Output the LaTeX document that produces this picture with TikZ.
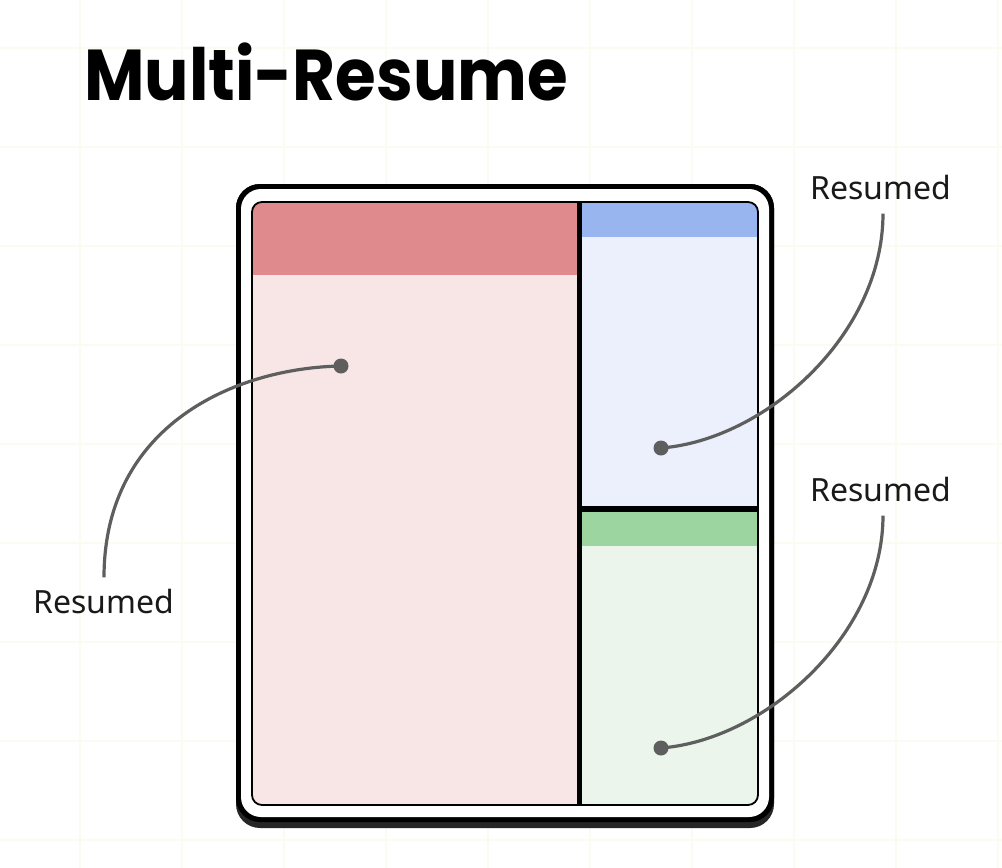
\documentclass[tikz,border=0pt]{standalone}
\usepackage{fontspec}
\setmainfont{Noto Sans}
\newfontfamily\titlefont{Poppins}
\definecolor{gridline}{HTML}{FAFBF2}
\definecolor{redhead}{HTML}{DF8A8C}
\definecolor{redbody}{HTML}{F8E6E7}
\definecolor{bluehead}{HTML}{98B5EF}
\definecolor{bluebody}{HTML}{ECF0FC}
\definecolor{greenhead}{HTML}{9DD5A0}
\definecolor{greenbody}{HTML}{EBF5EC}
\definecolor{leadgray}{HTML}{5E5E5E}
\definecolor{shadow}{HTML}{262626}
\begin{document}
\begin{tikzpicture}[x=1pt, y=-1pt,
    dot/.style={circle, fill=leadgray, inner sep=0pt, minimum size=15pt},
    lbl/.style={font=\fontsize{32}{38}\selectfont, text=black!90, inner sep=2pt},
    lead/.style={draw=leadgray, line width=3.2pt}]
    \useasboundingbox [fill=white] (0, 0) rectangle (1002, 868);
    \foreach \gx in {80, 182, ..., 1000}
      \draw [gridline, line width=1.2pt] (\gx, 0) -- (\gx, 868);
    \foreach \gy in {48, 147, ..., 868}
      \draw [gridline, line width=1.2pt] (0, \gy) -- (1002, \gy);

    \node [anchor=base west, inner sep=0pt] (title) at (84, 100)
      {\scalebox{0.915}[1]{\titlefont\fontsize{72}{80}\selectfont\bfseries Multi-Resume}};

    % device body
    \fill [shadow] (236, 184) [rounded corners=24pt] rectangle (774, 828);
    \fill [black] (236, 184) [rounded corners=24pt] rectangle (774, 822);
    \fill [white] (241, 189) [rounded corners=20pt] rectangle (769, 817);

    % panes
    \begin{scope}
      \clip (252, 202) [rounded corners=10pt] rectangle (758, 805);
      \fill [redbody] (252, 202) rectangle (579, 805);
      \fill [redhead] (252, 202) rectangle (579, 275);
      \fill [bluebody] (580, 202) rectangle (758, 509);
      \fill [bluehead] (580, 202) rectangle (758, 237);
      \fill [greenbody] (580, 509) rectangle (758, 805);
      \fill [greenhead] (580, 509) rectangle (758, 546);
    \end{scope}
    \draw [line width=5pt] (579.5, 202) -- (579.5, 805);
    \draw [line width=6pt] (579.5, 509) -- (758, 509);
    \draw [line width=1.8pt] (252, 202) [rounded corners=10pt] rectangle (758, 805);

    \node [dot] (dotLeft) at (341, 366) {};
    \node [dot] (dotTop) at (661, 448) {};
    \node [dot] (dotBottom) at (661, 748) {};

    \node [lbl] (lblLeft) at (104, 601) {Resumed};
    \node [lbl] (lblTop) at (881, 187) {Resumed};
    \node [lbl] (lblBottom) at (881, 489) {Resumed};

    \draw [lead] (dotLeft.center)
      .. controls (235, 368) and (104, 425) ..
      ([yshift=9pt]lblLeft.north);
    \draw [lead] (dotTop.center)
      .. controls (765, 440) and (883, 335) ..
      ([xshift=2pt, yshift=-12pt]lblTop.south);
    \draw [lead] (dotBottom.center)
      .. controls (765, 740) and (883, 635) ..
      ([xshift=2pt, yshift=-12pt]lblBottom.south);
\end{tikzpicture}
\end{document}
